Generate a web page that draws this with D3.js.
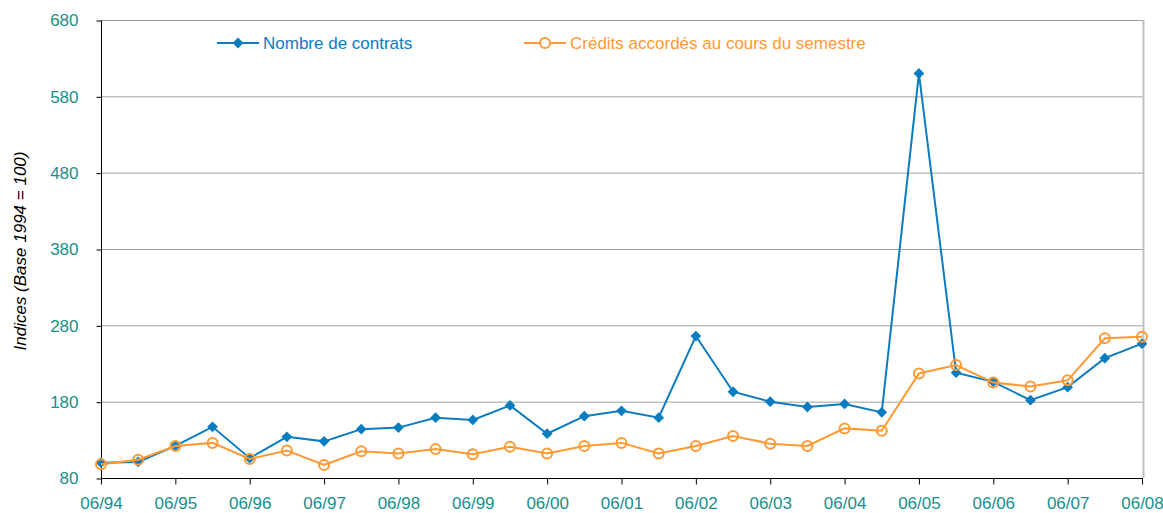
<!DOCTYPE html>
<meta charset="utf-8">
<style>
body { margin: 0; background: #fff; }
svg text { font-family: "Liberation Sans", Arial, sans-serif; }
.grid line { stroke: #a0a0a0; stroke-width: 1px; }
</style>
<svg width="1163" height="513"></svg>
<script src="https://d3js.org/d3.v7.min.js"></script>
<script>
// semesters from 06/94 to 06/08
var periods = ["06/94","12/94","06/95","12/95","06/96","12/96","06/97","12/97","06/98","12/98",
  "06/99","12/99","06/00","12/00","06/01","12/01","06/02","12/02","06/03","12/03",
  "06/04","12/04","06/05","12/05","06/06","12/06","06/07","12/07","06/08"];
var contrats = [100,101,122,147,106,134,128,144,146,159,156,175,138,161,168,159,266,193,180,173,
  177,166,610,218,206,182,199,237,256];
var credits = [98,104,122,126,105,116,97,115,112,118,111,121,112,122,126,112,122,135,125,122,
  145,142,217,228,205,200,208,263,265];
var yTicks = [80,180,280,380,480,580,680];
var seriesNames = ["Nombre de contrats", "Crédits accordés au cours du semestre"];
var colBlue = "#0a7cc0", colOrange = "#ff9a33", colTick = "#15908c";

var svg = d3.select("svg"),
    mLeft = 101, mRight = 1142, mTop = 20, mBottom = 478;

var x = d3.scalePoint().domain(d3.range(periods.length)).range([mLeft, mRight]);
var y = d3.scaleLinear().domain([80, 680]).range([mBottom, mTop]);

// gridlines
svg.append("g").attr("class", "grid")
  .selectAll("line").data(yTicks.slice(1)).enter().append("line")
  .attr("x1", mLeft).attr("x2", mRight + 1)
  .attr("y1", function(d) { return y(d) + 0.5; })
  .attr("y2", function(d) { return y(d) + 0.5; });
svg.append("line").attr("x1", mRight + 1.5).attr("x2", mRight + 1.5)
  .attr("y1", mTop).attr("y2", mBottom).attr("stroke", "#c0c0c0").attr("stroke-width", 2);

// y axis
var yAxis = svg.append("g").attr("transform", "translate(" + (mLeft + 0.5) + ",0.5)")
  .call(d3.axisLeft(y).tickValues(yTicks).tickSize(5).tickPadding(18).tickFormat(d3.format("d")));
yAxis.select(".domain").attr("stroke", "#000").attr("d", "M0," + mTop + "V" + mBottom);
yAxis.selectAll(".tick line").attr("stroke", "#000");
yAxis.selectAll("text").attr("fill", colTick).style("font-size", "17px");

// x axis
var yearIdx = d3.range(0, periods.length, 2);
var xAxis = svg.append("g").attr("transform", "translate(0," + (mBottom + 0.5) + ")")
  .call(d3.axisBottom(x).tickValues(yearIdx).tickSize(6).tickPadding(12)
    .tickFormat(function(i) { return periods[i]; }));
xAxis.select(".domain").attr("stroke", "#000").attr("d", "M" + mLeft + ",0H" + (mRight + 1));
xAxis.selectAll(".tick line").attr("stroke", "#000");
xAxis.selectAll("text").attr("fill", colTick).style("font-size", "17px");

// y title
svg.append("text")
  .attr("transform", "translate(26,251) rotate(-90)")
  .attr("text-anchor", "middle").style("font-size", "17px").style("font-style", "italic")
  .attr("fill", "#000").text("Indices (Base 1994 = 100)");

var line = d3.line().x(function(d, i) { return x(i); }).y(function(d) { return y(d); });
var diamond = d3.symbol().type(d3.symbolSquare).size(58);

// contrats
svg.append("path").datum(contrats).attr("d", line)
  .attr("fill", "none").attr("stroke", colBlue).attr("stroke-width", 2);
svg.append("g").selectAll("path").data(contrats).enter().append("path")
  .attr("d", diamond)
  .attr("transform", function(d, i) { return "translate(" + x(i) + "," + y(d) + ") rotate(45)"; })
  .attr("fill", colBlue);

// credits
svg.append("path").datum(credits).attr("d", line)
  .attr("fill", "none").attr("stroke", colOrange).attr("stroke-width", 2);
svg.append("g").selectAll("circle").data(credits).enter().append("circle")
  .attr("cx", function(d, i) { return x(i); })
  .attr("cy", function(d) { return y(d); })
  .attr("r", 5).attr("fill", "none").attr("stroke", colOrange).attr("stroke-width", 2);

// legend
var lg = svg.append("g");
lg.append("line").attr("x1", 217).attr("x2", 259).attr("y1", 43).attr("y2", 43)
  .attr("stroke", colBlue).attr("stroke-width", 2);
lg.append("path").attr("d", diamond).attr("transform", "translate(238,43) rotate(45)").attr("fill", colBlue);
lg.append("text").attr("x", 263).attr("y", 49).attr("fill", colBlue)
  .style("font-size", "17px").text(seriesNames[0]);
lg.append("line").attr("x1", 524).attr("x2", 566).attr("y1", 43).attr("y2", 43)
  .attr("stroke", colOrange).attr("stroke-width", 2);
lg.append("circle").attr("cx", 545).attr("cy", 43).attr("r", 5)
  .attr("fill", "#fff").attr("stroke", colOrange).attr("stroke-width", 2);
lg.append("text").attr("x", 570).attr("y", 49).attr("fill", colOrange)
  .style("font-size", "17px").text(seriesNames[1]);
</script>
